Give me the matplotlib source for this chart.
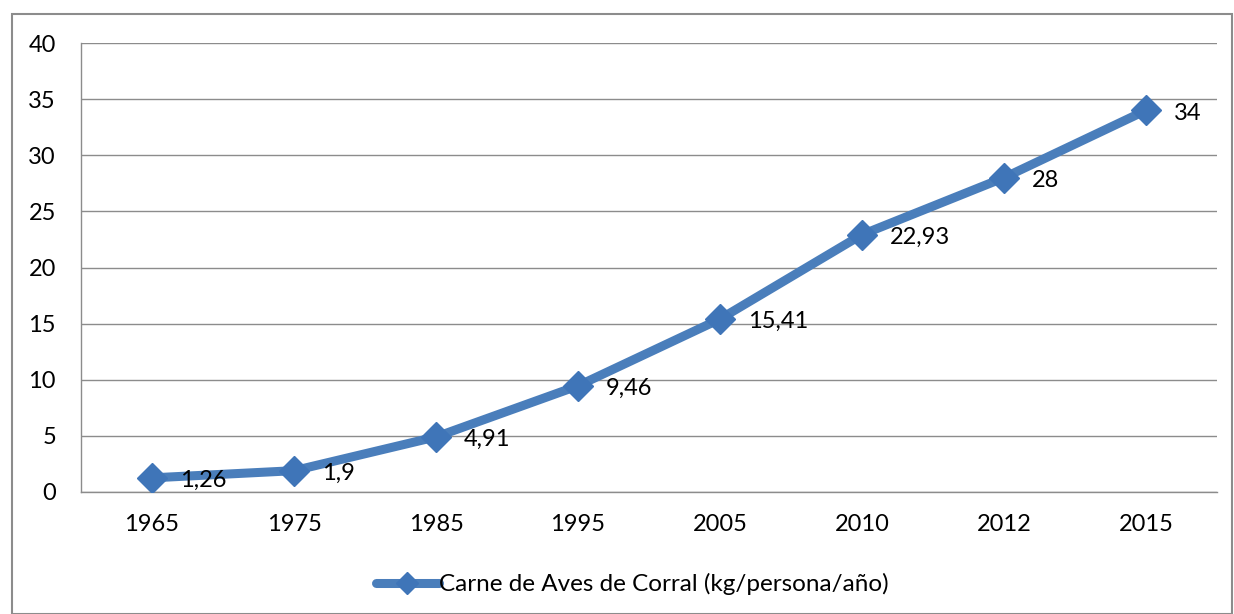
import matplotlib.pyplot as plt
from matplotlib.patches import Rectangle

years = ["1965", "1975", "1985", "1995", "2005", "2010", "2012", "2015"]
values = [1.26, 1.9, 4.91, 9.46, 15.41, 22.93, 28, 34]
value_labels = ["1,26", "1,9", "4,91", "9,46", "15,41", "22,93", "28", "34"]
series_name = "Carne de Aves de Corral (kg/persona/año)"

BLUE = "#4A7EBB"
GRID = "#8C8C8C"

plt.rcParams['font.family'] = ['Lato', 'DejaVu Sans']

W, H = 1234, 614
fig = plt.figure(figsize=(W / 100, H / 100), dpi=100)
ax = fig.add_axes([81 / W, 1 - 492 / H, (1217 - 81) / W, (492 - 43) / H])

x = list(range(len(years)))
ax.plot(x, values, color=BLUE, lw=6.5, marker="D", ms=15, mfc="#3F75B8",
        mec="#3F75B8", solid_capstyle="round", label=series_name, zorder=3)

for xi, v, lab in zip(x, values, value_labels):
    ax.annotate(lab, (xi, v), xytext=(20, -2), textcoords="offset points",
                va="center", ha="left", fontsize=17, color="black", zorder=4)

ax.set_xlim(-0.5, len(years) - 0.5)
ax.set_ylim(0, 40)
ax.set_yticks(range(0, 41, 5))
ax.set_xticks(x)
ax.set_xticklabels(years)
ax.tick_params(axis="both", length=0, labelsize=17, colors="black")
ax.tick_params(axis="x", pad=16)
ax.tick_params(axis="y", pad=18)
ax.grid(axis="y", color=GRID, lw=1)
ax.set_axisbelow(True)
for s in ["top", "right"]:
    ax.spines[s].set_visible(False)
for s in ["left", "bottom"]:
    ax.spines[s].set_color(GRID)
    ax.spines[s].set_linewidth(1)

fig.legend(loc="center", bbox_to_anchor=(632 / W, 1 - 584 / H), frameon=False,
           fontsize=17.5, handlelength=2.6, handletextpad=0.0, markerscale=0.75)

fig.patches.append(Rectangle((12 / W, 0), (1232 - 12) / W, 1 - 14 / H,
                             transform=fig.transFigure, fill=False,
                             ec=GRID, lw=1.5))

fig.savefig("out.png", dpi=100)
